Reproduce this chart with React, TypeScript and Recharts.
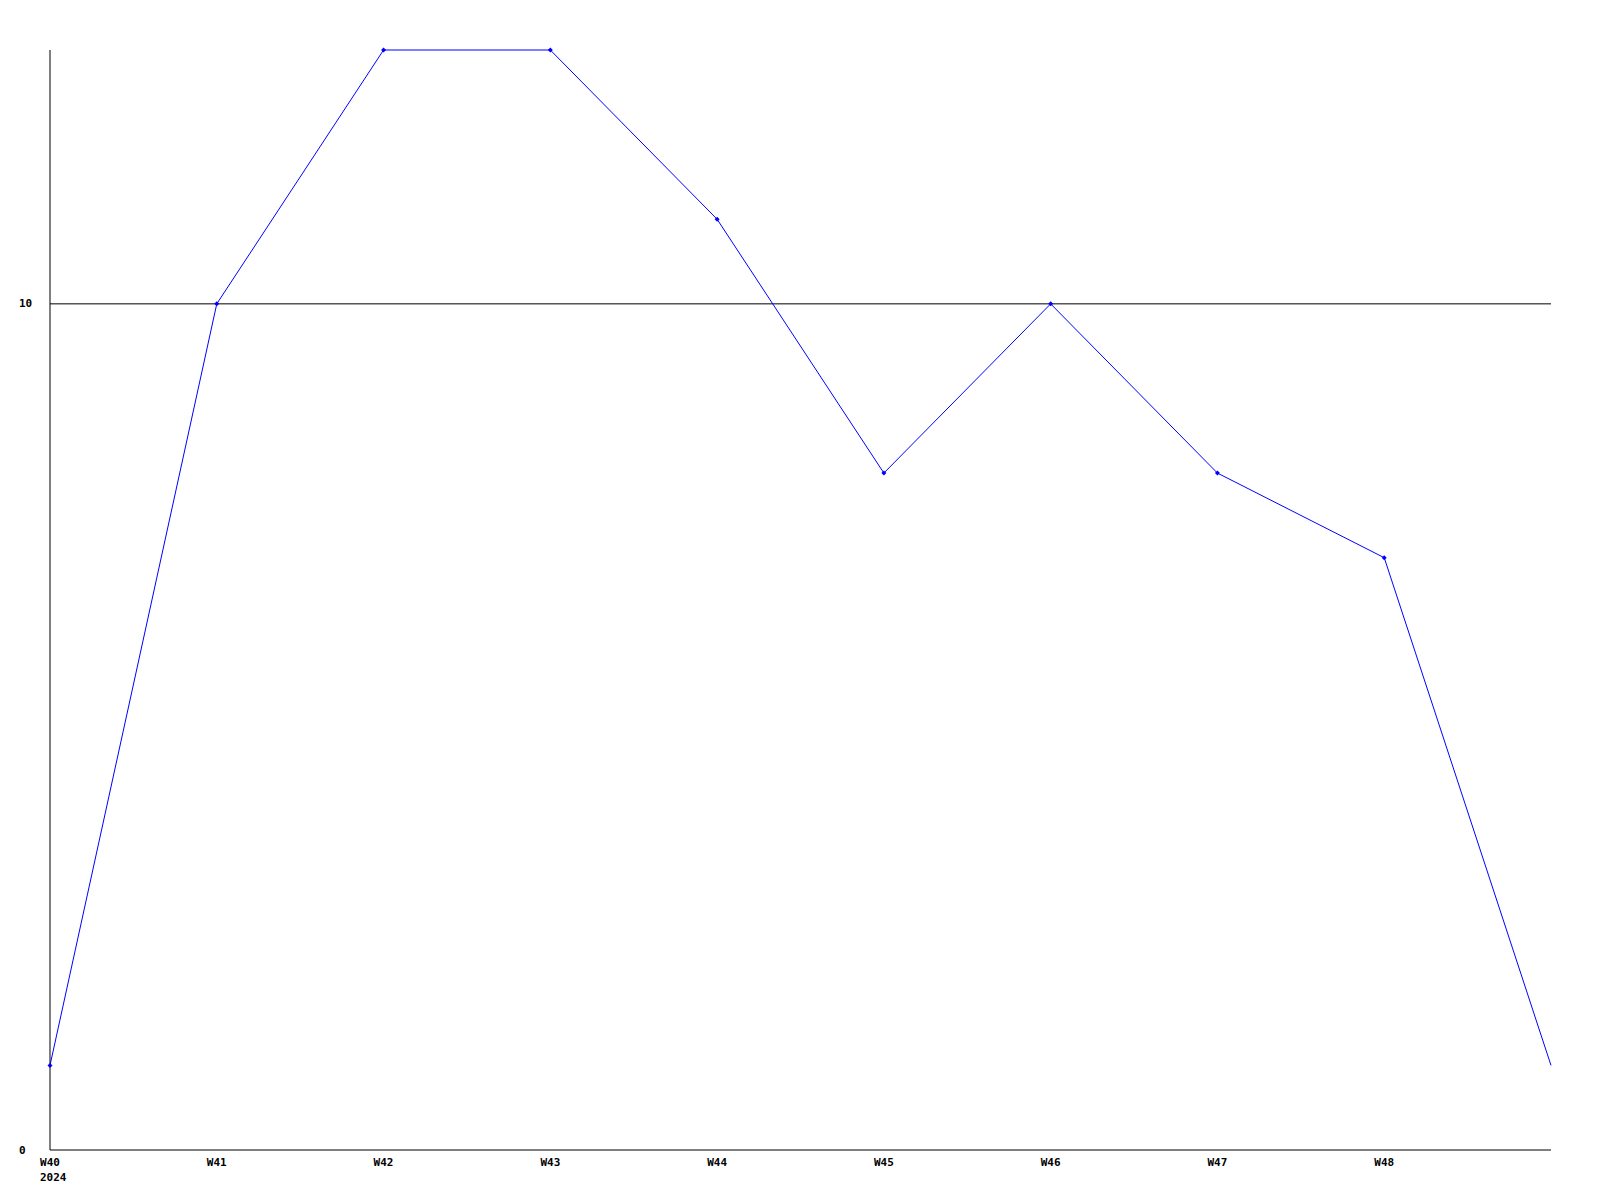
import { LineChart, Line, XAxis, YAxis, ReferenceLine } from "recharts"

const weeks = ["W40", "W41", "W42", "W43", "W44", "W45", "W46", "W47", "W48", "W49"]
const counts = [1, 10, 13, 13, 11, 8, 10, 8, 7, 1]
const weekLabels = ["W40", "W41", "W42", "W43", "W44", "W45", "W46", "W47", "W48"]
const yearLabel = "2024"
const yTicks = [0, 10]

const data = weeks.map((week, i) => ({ week, count: counts[i] }))

const font = { fontFamily: "DejaVu Sans Mono, monospace", fontWeight: 700, fontSize: 11 }

function WeekTick(props: any) {
  const { x, y, payload, index } = props
  if (!weekLabels.includes(payload.value)) return null
  return (
    <g>
      <text x={x} y={y + 4} textAnchor="middle" dominantBaseline="central" fill="#000" style={font}>
        {payload.value}
      </text>
      {index === 0 && (
        <text x={x - 10} y={y + 19} textAnchor="start" dominantBaseline="central" fill="#000" style={font}>
          {yearLabel}
        </text>
      )}
    </g>
  )
}

// y labels sit left-aligned in the gutter
function CountTick(props: any) {
  const { y, payload } = props
  return (
    <text x={19} y={y} textAnchor="start" dominantBaseline="central" fill="#000" style={font}>
      {payload.value}
    </text>
  )
}

function Marker(props: any) {
  const { cx, cy, index } = props
  if (index === data.length - 1) return <g key={index} />
  return (
    <path
      key={index}
      d={`M${cx - 2.5},${cy}L${cx},${cy - 2.5}L${cx + 2.5},${cy}L${cx},${cy + 2.5}Z`}
      fill="#0000ff"
    />
  )
}

export default function App() {
  return (
    <div style={{ position: "absolute", left: 0, top: 0, width: 1600, height: 1200, background: "#fff" }}>
      <LineChart width={1600} height={1200} data={data} margin={{ top: 50, right: 49, bottom: 0, left: 0 }}>
        <XAxis
          dataKey="week"
          height={50}
          interval={0}
          tickLine={false}
          axisLine={{ stroke: "#000", strokeWidth: 1 }}
          tick={<WeekTick />}
        />
        <YAxis
          width={50}
          domain={[0, 13]}
          ticks={yTicks}
          tickLine={false}
          axisLine={{ stroke: "#000", strokeWidth: 1 }}
          tick={<CountTick />}
        />
        <ReferenceLine y={10} stroke="#000" strokeWidth={1} />
        <Line
          type="linear"
          dataKey="count"
          stroke="#0000ff"
          strokeWidth={1}
          dot={<Marker />}
          activeDot={false}
          isAnimationActive={false}
        />
      </LineChart>
    </div>
  )
}
